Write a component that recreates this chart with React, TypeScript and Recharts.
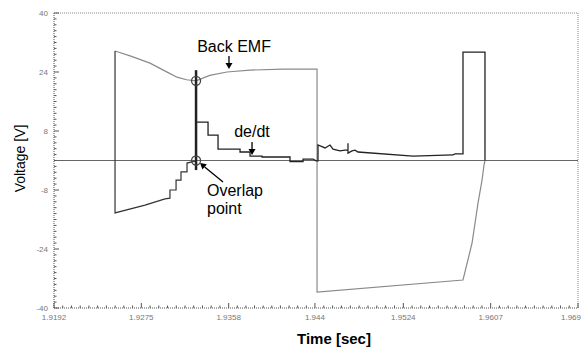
import { LineChart, Line, XAxis, YAxis, ReferenceLine, ReferenceDot } from "recharts"

// Phase voltage with the back EMF section (light trace)
const emfTime = [
  1.925, 1.9265, 1.92832, 1.93, 1.93089, 1.9318, 1.9327, 1.934, 1.93564, 1.93783, 1.94096, 1.9442, 1.9442, 1.95807,
  1.95893, 1.9595, 1.95988, 1.96007, 1.96016,
]
const emfVolt = [
  29.7, 28.3, 26.4, 23.9, 22.6, 21.9, 21.6, 23.1, 24.0, 24.5, 24.8, 24.8, -35.7, -32.4, -22.4, -11.5, -5.3, -1.2, 0,
]

// Falling phase, stepping back up to zero before the overlap point
const fallTime = [1.925, 1.925, 1.92785, 1.92975, 1.93022, 1.93022, 1.9308, 1.9308, 1.93127, 1.93127, 1.93184, 1.93184, 1.9327]
const fallVolt = [29.7, -14.2, -12.1, -10.4, -10.2, -8.0, -8.0, -5.3, -5.3, -3.1, -3.1, -0.7, -0.1]

// de/dt signal and the next phase pulse
const dedtTime = [
  1.9327, 1.93384, 1.93384, 1.93479, 1.93479, 1.93688, 1.93688, 1.93783, 1.93783, 1.93897, 1.93897, 1.94163, 1.94163,
  1.94287, 1.94287, 1.94382, 1.9441, 1.94429, 1.94429, 1.94496, 1.94543, 1.94572, 1.94638, 1.94686, 1.94714, 1.94714,
  1.94714, 1.94752, 1.94781, 1.94809, 1.95332, 1.95712, 1.95731, 1.95807, 1.95807, 1.96016, 1.96016,
]
const dedtVolt = [
  10.4, 10.4, 6.9, 6.9, 3.1, 3.1, 2.3, 2.3, 1.2, 1.2, 0.95, 0.95, -0.3,
  -0.3, 0.4, 0.4, -0.1, -0.1, 4.2, 3.4, 4.2, 3.1, 2.6, 2.8, 2.8, 4.7,
  2.0, 2.6, 2.8, 2.3, 1.2, 1.5, 1.8, 1.8, 29.4, 29.4, 0,
]

const overlapTime = 1.9327
const emfAtOverlap = 21.6

const xTicks = [1.9192, 1.9275, 1.9358, 1.944, 1.9524, 1.9607, 1.969]
const xTickLabels = ["1.9192", "1.9275", "1.9358", "1.944", "1.9524", "1.9607", "1.969"]
const yTicks = [-40, -24, -8, 8, 24, 40]
const yTickLabels = ["-40", "-24", "-8", "8", "24", "40"]

const toPoints = (ts: number[], vs: number[]) => ts.map((t, i) => ({ t, v: vs[i] }))

// ten minor divisions between major ticks
const withMinor = (major: number[]) => {
  const out: number[] = []
  for (let i = 0; i < major.length - 1; i++) {
    const step = (major[i + 1] - major[i]) / 10
    for (let j = 0; j < 10; j++) out.push(major[i] + step * j)
  }
  out.push(major[major.length - 1])
  return out
}

const FONT = "'Liberation Sans', Arial, sans-serif"

const majorIndex = (list: number[], value: number) => list.findIndex((m) => Math.abs(m - value) < 1e-6)

const XTick = (props: any) => {
  const { x, y, payload } = props
  const idx = majorIndex(xTicks, payload.value)
  const last = idx === xTicks.length - 1
  return (
    <g>
      <line x1={x} y1={y} x2={x} y2={y - (idx >= 0 ? 5 : 2.5)} stroke="#555" />
      {idx >= 0 && (
        <text x={last ? x + 3 : x} y={y + 12} textAnchor={last ? "end" : "middle"} fontSize={8} fill="#777"
          fontFamily={FONT}>
          {xTickLabels[idx]}
        </text>
      )}
    </g>
  )
}

const YTick = (props: any) => {
  const { x, y, payload } = props
  const idx = majorIndex(yTicks, payload.value)
  return (
    <g>
      <line x1={x} y1={y} x2={x + (idx >= 0 ? 5 : 2.5)} y2={y} stroke="#555" />
      {idx >= 0 && (
        <text x={x - 6} y={y + 3} textAnchor="end" fontSize={8} fill="#777" fontFamily={FONT}>
          {yTickLabels[idx]}
        </text>
      )}
    </g>
  )
}

const VoltageTitle = (props: any) => {
  const { x, y, width, height } = props.viewBox
  const cx = x + width - 34
  const cy = y + height / 2 - 2
  return (
    <text x={cx} y={cy} transform={`rotate(-90 ${cx} ${cy})`} textAnchor="middle" dominantBaseline="central"
      fontSize={14} fontFamily={FONT} fill="#000">
      Voltage [V]
    </text>
  )
}

const TimeTitle = (props: any) => {
  const { x, y } = props.viewBox
  return (
    <text x={x + 280} y={y + 30} textAnchor="middle" dominantBaseline="central" fontSize={15} fontWeight="bold"
      fontFamily={FONT} fill="#000">
      Time [sec]
    </text>
  )
}

const textShape = (lines: string[], anchor: string) => (p: any) => (
  <text x={p.cx} y={p.cy} textAnchor={anchor} fontSize={16} fontFamily={FONT} fill="#000">
    {lines.map((l, i) => (
      <tspan key={i} x={p.cx} dy={i === 0 ? 5 : 18}>
        {l}
      </tspan>
    ))}
  </text>
)

// arrow drawn from a tail offset (dx, dy) to the tip at the dot
const arrowShape = (dx: number, dy: number) => (p: any) => {
  const len = Math.hypot(dx, dy)
  const ux = -dx / len
  const uy = -dy / len
  const bx = p.cx - ux * 6
  const by = p.cy - uy * 6
  return (
    <g>
      <line x1={p.cx + dx} y1={p.cy + dy} x2={bx} y2={by} stroke="#000" strokeWidth={1.3} />
      <polygon
        points={`${p.cx},${p.cy} ${bx - uy * 3.5},${by + ux * 3.5} ${bx + uy * 3.5},${by - ux * 3.5}`}
        fill="#000"
      />
    </g>
  )
}

export default function App() {
  return (
    <div style={{ position: "absolute", left: 0, top: 0, background: "#fff" }}>
      <LineChart width={584} height={349} margin={{ top: 13, right: 6, bottom: 1, left: 14 }}>
        <XAxis
          dataKey="t"
          type="number"
          domain={[1.9192, 1.969]}
          ticks={withMinor(xTicks)}
          interval={0}
          height={40}
          tickSize={0}
          tickMargin={0}
          tickLine={false}
          tick={<XTick />}
          axisLine={{ stroke: "#555", strokeDasharray: "1 1" }}
          allowDataOverflow
          label={{ content: <TimeTitle /> }}
        />
        <YAxis
          dataKey="v"
          type="number"
          domain={[-40, 40]}
          ticks={withMinor(yTicks)}
          interval={0}
          width={40}
          tickSize={0}
          tickMargin={0}
          tickLine={false}
          tick={<YTick />}
          axisLine={{ stroke: "#555", strokeDasharray: "1 1" }}
          allowDataOverflow
          label={{ content: <VoltageTitle /> }}
        />
        <ReferenceLine y={40} stroke="#888" strokeDasharray="1 1" />
        <ReferenceLine x={1.969} stroke="#888" strokeDasharray="1 1" />
        <ReferenceLine y={0} stroke="#666" strokeWidth={1.2} />

        <Line data={toPoints(emfTime, emfVolt)} dataKey="v" type="linear" stroke="#8a8a8a" strokeWidth={1.2}
          dot={false} isAnimationActive={false} />
        <Line data={toPoints(fallTime, fallVolt)} dataKey="v" type="linear" stroke="#333" strokeWidth={1.2}
          dot={false} isAnimationActive={false} />
        <Line data={toPoints(dedtTime, dedtVolt)} dataKey="v" type="linear" stroke="#222" strokeWidth={1.3}
          dot={false} isAnimationActive={false} />

        <ReferenceLine segment={[{ x: overlapTime, y: 24.5 }, { x: overlapTime, y: -2.6 }]} stroke="#222"
          strokeWidth={2.5} />
        <ReferenceDot x={overlapTime} y={emfAtOverlap} r={4.5} fill="none" stroke="#444" strokeWidth={1.3} />
        <ReferenceDot x={overlapTime} y={0} r={4.5} fill="none" stroke="#444" strokeWidth={1.3} />

        <ReferenceDot x={1.93631} y={30.8} shape={textShape(["Back EMF"], "middle")} />
        <ReferenceDot x={1.93583} y={24.8} shape={arrowShape(0, -13)} />
        <ReferenceDot x={1.93802} y={7.7} shape={textShape(["de/dt"], "middle")} />
        <ReferenceDot x={1.93802} y={1.5} shape={arrowShape(0, -13)} />
        <ReferenceDot x={1.93374} y={-8.3} shape={textShape(["Overlap", "point"], "start")} />
        <ReferenceDot x={1.93308} y={-0.7} shape={arrowShape(23, 19)} />
      </LineChart>
    </div>
  )
}
